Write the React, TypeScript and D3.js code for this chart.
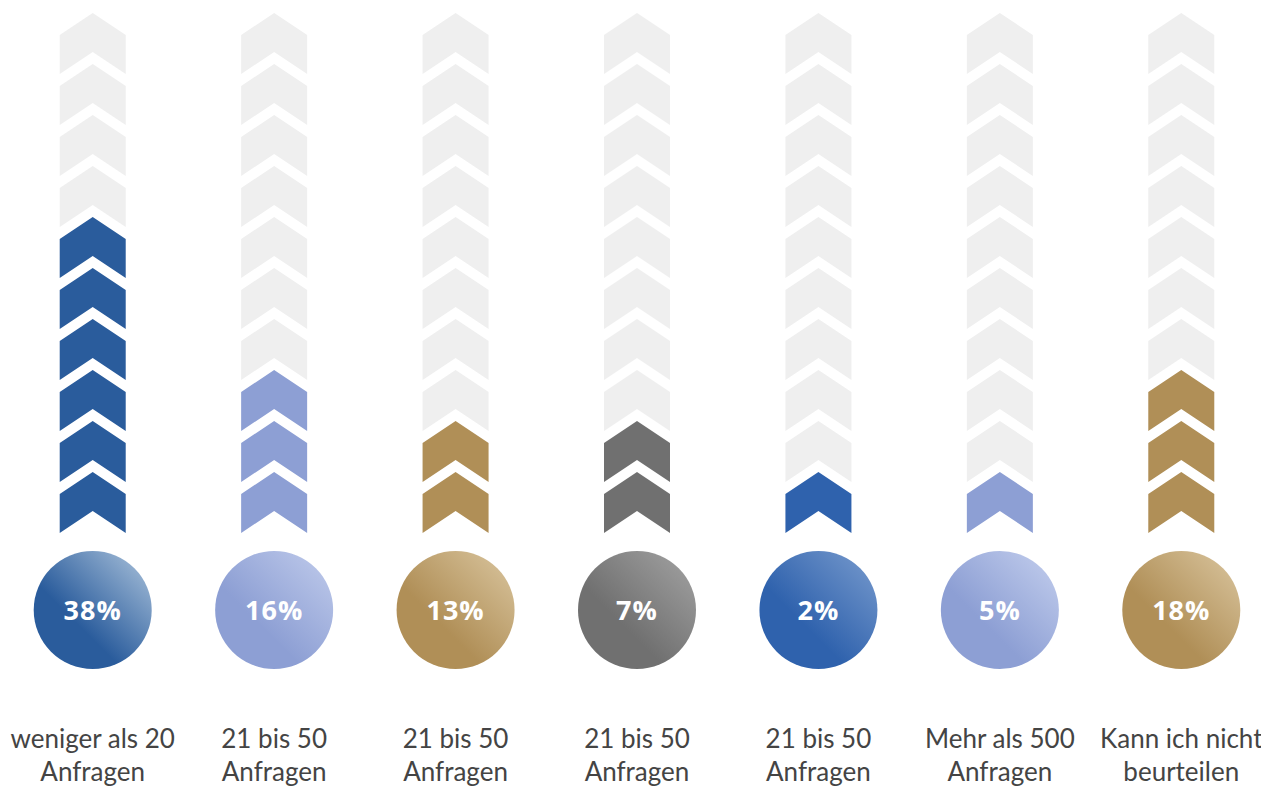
import React from "react";
import * as d3 from "d3";

const categories = [
  ["weniger als 20", "Anfragen"],
  ["21 bis 50", "Anfragen"],
  ["21 bis 50", "Anfragen"],
  ["21 bis 50", "Anfragen"],
  ["21 bis 50", "Anfragen"],
  ["Mehr als 500", "Anfragen"],
  ["Kann ich nicht", "beurteilen"],
];
const percents = [38, 16, 13, 7, 2, 5, 18];
const filledChevrons = [6, 3, 2, 2, 1, 1, 3];
const totalChevrons = 10;
const barColors = ["#2a5c9c", "#8d9fd4", "#b08f57", "#707070", "#2f62ad", "#8d9fd4", "#b08f57"];
const lightColors = ["#9ab5d3", "#b9c5e8", "#d4be95", "#9c9c9c", "#6e93c9", "#bcc8ea", "#d4be95"];

const W = 1261;
const H = 787;

export default function App() {
  const x = d3
    .scaleBand<number>()
    .domain(d3.range(categories.length))
    .range([2, 1272])
    .paddingInner(0)
    .paddingOuter(0);
  // chevron index 0 = bottom
  const y = d3.scaleLinear().domain([0, totalChevrons - 1]).range([472, 13]);
  const halfW = 33;
  const chevron = (cx: number, y0: number) => {
    const p = d3.path();
    p.moveTo(cx, y0);
    p.lineTo(cx + halfW, y0 + 22);
    p.lineTo(cx + halfW, y0 + 61);
    p.lineTo(cx, y0 + 39);
    p.lineTo(cx - halfW, y0 + 61);
    p.lineTo(cx - halfW, y0 + 22);
    p.closePath();
    return p.toString();
  };
  const cy = 610;
  const r = 59;
  return (
    <svg
      width={W}
      height={H}
      style={{ position: "absolute", left: 0, top: 0, display: "block" }}
    >
      <defs>
        {barColors.map((c, i) => (
          <linearGradient key={i} id={`g${i}`} x1="0.15" y1="0.85" x2="0.9" y2="0.1">
            <stop offset="0.3" stopColor={c} />
            <stop offset="1" stopColor={lightColors[i]} />
          </linearGradient>
        ))}
      </defs>
      <rect width={W} height={H} fill="#fff" />
      {categories.map((cat, i) => {
        const cx = x(i)! + x.bandwidth() / 2;
        return (
          <g key={i}>
            {d3.range(totalChevrons).map((k) => (
              <path
                key={k}
                d={chevron(cx, y(k))}
                fill={k < filledChevrons[i] ? barColors[i] : "#efefef"}
              />
            ))}
            <circle cx={cx} cy={cy} r={r} fill={`url(#g${i})`} />
            <text
              x={cx}
              y={cy + 10}
              textAnchor="middle"
              fill="#fff"
              fontFamily="'Open Sans', sans-serif"
              fontWeight={700}
              fontSize={27}
              letterSpacing={1}
            >
              {percents[i]}%
            </text>
            <text
              x={cx}
              textAnchor="middle"
              fill="#444"
              fontFamily="Lato, sans-serif"
              fontSize={26}
            >
              <tspan x={cx} y={748}>{cat[0]}</tspan>
              <tspan x={cx} y={781}>{cat[1]}</tspan>
            </text>
          </g>
        );
      })}
    </svg>
  );
}
